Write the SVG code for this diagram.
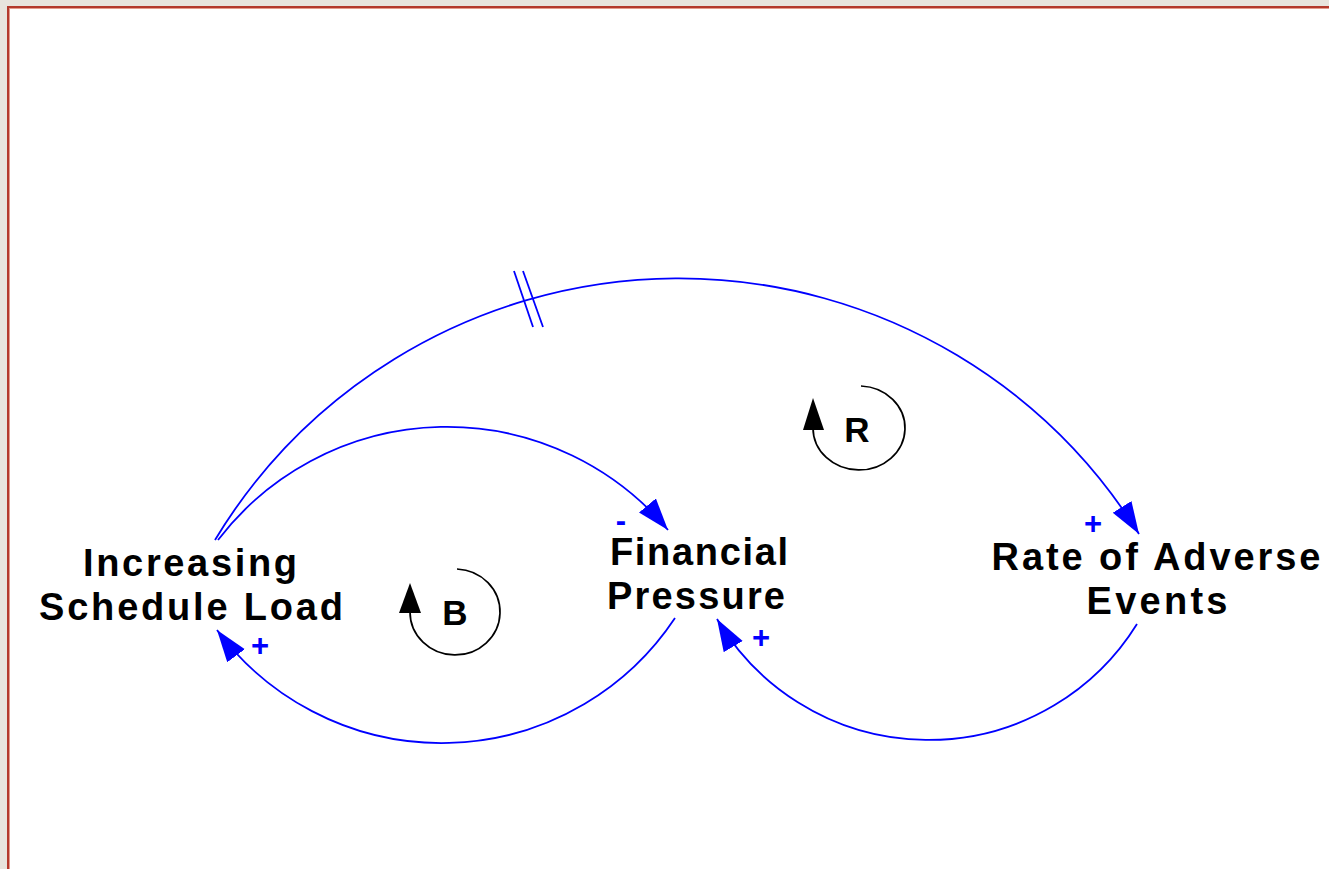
<svg xmlns="http://www.w3.org/2000/svg" width="1329" height="869" viewBox="0 0 1329 869">
  <style>
    .lbl { font-family: "Liberation Sans", Arial, sans-serif; font-weight: bold; font-size: 38px; fill: #000; text-anchor: middle; }
    .pol { font-family: "Liberation Sans", Arial, sans-serif; font-weight: bold; font-size: 31px; fill: #0000ff; text-anchor: middle; }
    .loopt { font-family: "Liberation Sans", Arial, sans-serif; font-weight: bold; font-size: 35px; fill: #000; text-anchor: middle; }
    .link { fill: none; stroke: #0000ff; stroke-width: 1.8; }
    .loop { fill: none; stroke: #000; stroke-width: 1.7; }
  </style>
  <defs>
    <marker id="ah" markerUnits="userSpaceOnUse" markerWidth="34" markerHeight="24" refX="32" refY="11" orient="auto">
      <path d="M0,0 L32,11 L0,22 Z" fill="#0000ff"/>
    </marker>
  </defs>

  <!-- background and frame -->
  <rect x="0" y="0" width="1329" height="869" fill="#e8e4dd"/>
  <rect x="7" y="6" width="1400" height="1000" fill="#b3392c"/>
  <rect x="9" y="8" width="1400" height="1000" fill="#e39a8c"/>
  <rect x="10" y="9" width="1400" height="1000" fill="#ffffff"/>

  <!-- connectors -->
  <g id="connectors">
    <path class="link" d="M215,540 A542,542 0 0,1 1139,534" marker-end="url(#ah)"/>
    <line class="link" x1="514" y1="271" x2="533" y2="327"/>
    <line class="link" x1="523" y1="271" x2="543" y2="327"/>
    <path class="link" d="M218,540 A288.4,288.4 0 0,1 668,530" marker-end="url(#ah)"/>
    <path class="link" d="M675,618 A280,280 0 0,1 217,630" marker-end="url(#ah)"/>
    <path class="link" d="M1137,624 A245.4,245.4 0 0,1 717,619" marker-end="url(#ah)"/>
    <text class="pol" x="621" y="531">-</text>
    <text class="pol" x="260" y="656">+</text>
    <text class="pol" x="761" y="648">+</text>
    <text class="pol" x="1093" y="534">+</text>
  </g>

  <!-- nodes -->
  <g id="increasing-schedule-load">
    <text class="lbl" x="190" y="576" textLength="214" lengthAdjust="spacing">Increasing</text>
    <text class="lbl" x="191" y="620" textLength="304" lengthAdjust="spacing">Schedule Load</text>
  </g>
  <g id="financial-pressure">
    <text class="lbl" x="699" y="565" textLength="178" lengthAdjust="spacing">Financial</text>
    <text class="lbl" x="696" y="609" textLength="178" lengthAdjust="spacing">Pressure</text>
  </g>
  <g id="rate-of-adverse-events">
    <text class="lbl" x="1156" y="570" textLength="329" lengthAdjust="spacing">Rate of Adverse</text>
    <text class="lbl" x="1157" y="614" textLength="141" lengthAdjust="spacing">Events</text>
  </g>

  <!-- loop markers -->
  <g id="loop-b">
    <path class="loop" d="M457,569 A45,43 0 1,1 410,612"/>
    <path d="M410,583 L421,613 L399,613 Z" fill="#000"/>
    <text class="loopt" x="455" y="625">B</text>
  </g>
  <g id="loop-r">
    <path class="loop" d="M861,386 A46,42 0 1,1 813,428"/>
    <path d="M813,398 L824,430 L803,430 Z" fill="#000"/>
    <text class="loopt" x="857" y="442">R</text>
  </g>
</svg>
